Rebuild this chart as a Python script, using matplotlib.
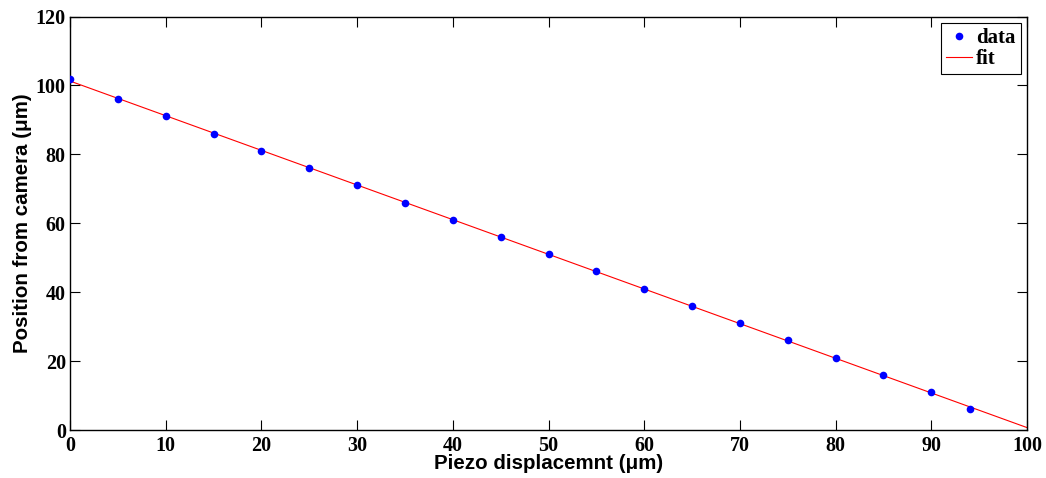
import numpy as np
import matplotlib
matplotlib.use("Agg")
import matplotlib.pyplot as plt

# Measured positions versus piezo displacement
piezo_um = [0, 5, 10, 15, 20, 25, 30, 35, 40, 45, 50, 55, 60, 65, 70, 75, 80, 85, 90, 94]
position_um = [102, 96, 91, 86, 81, 76, 71, 66, 61, 56, 51, 46, 41, 36, 31, 26, 21, 16, 11, 6]

x_ticks = list(range(0, 101, 10))
y_ticks = list(range(0, 121, 20))

# Linear fit evaluated over the full displacement range
slope, intercept = np.polyfit(piezo_um, position_um, 1)
fit_x = np.array([0, 100])
fit_y = slope * fit_x + intercept

fig = plt.figure(figsize=(10.46, 4.78), dpi=100)
ax = fig.add_axes([70 / 1046, 1 - 430 / 478, 957 / 1046, 413.5 / 478])

ax.plot(piezo_um, position_um, "o", color="#0000ff", markersize=5.5,
        markeredgewidth=0, label="data", zorder=3)
ax.plot(fit_x, fit_y, "-", color="#ff0000", linewidth=0.8, label="fit", zorder=2)

ax.set_xlim(0, 100)
ax.set_ylim(0, 120)
ax.set_xticks(x_ticks)
ax.set_yticks(y_ticks)

tick_font = dict(family="Liberation Serif", weight="bold", size=14.5)
ax.set_xticklabels([str(v) for v in x_ticks], fontdict=tick_font)
ax.set_yticklabels([str(v) for v in y_ticks], fontdict=tick_font)
ax.tick_params(direction="in", length=7, width=0.8, top=True, right=True,
               pad=3, colors="black")
ax.tick_params(axis="x", pad=4)
for spine in ax.spines.values():
    spine.set_linewidth(1.0)

label_font = dict(family="Liberation Sans", weight="bold", size=14.8)
ax.set_xlabel("Piezo displacemnt (\u03bcm)", fontdict=label_font, labelpad=-1)
ax.set_ylabel("Position from camera (\u03bcm)", fontdict=label_font, labelpad=3)

leg = ax.legend(loc="upper right", prop=dict(family="Liberation Serif", weight="bold", size=15),
                frameon=True, fancybox=False, edgecolor="black", framealpha=1,
                borderpad=0.25, handlelength=1.25, handletextpad=0.2,
                labelspacing=0.05, borderaxespad=0.3)
leg.get_frame().set_linewidth(0.8)

fig.savefig("out.png", dpi=100, facecolor="white")
